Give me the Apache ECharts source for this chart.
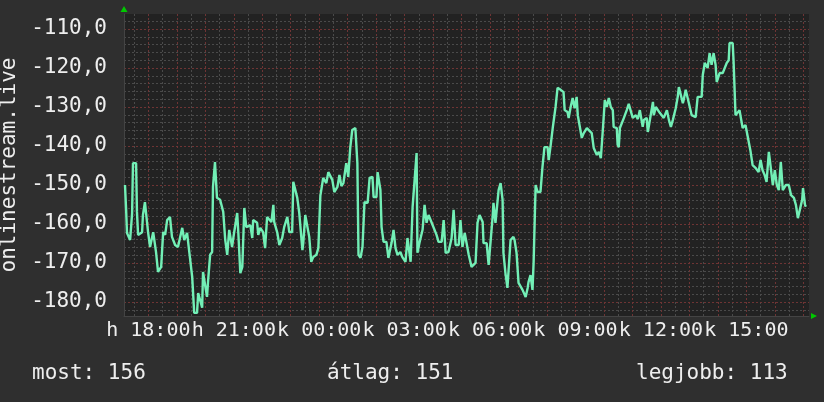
<!DOCTYPE html>
<html><head><meta charset="utf-8">
<script src="https://cdn.jsdelivr.net/npm/echarts@6/dist/echarts.min.js"></script>
<style>html,body{margin:0;padding:0;background:#2f2f2f;}#c{width:824px;height:402px;}</style>
</head><body><div id="c"></div>
<script>
// time in hours since Monday 00:00
const times = [17.18,17.22,17.25,17.32,17.36,17.43,17.46,17.57,17.60,17.64,17.67,17.78,17.81,17.88,17.95,17.99,18.06,18.13,18.17,18.24,18.27,18.34,18.41,18.45,18.52,18.59,18.66,18.76,18.83,18.94,19.04,19.19,19.26,19.36,19.43,19.54,19.61,19.71,19.75,19.82,19.89,19.92,19.99,20.06,20.10,20.17,20.24,20.27,20.34,20.41,20.52,20.63,20.70,20.77,20.84,20.94,21.01,21.12,21.16,21.23,21.30,21.37,21.44,21.58,21.65,21.68,21.82,21.86,21.93,22.03,22.10,22.17,22.24,22.32,22.39,22.42,22.53,22.60,22.70,22.77,22.88,22.95,23.05,23.09,23.16,23.23,23.30,23.41,23.44,23.51,23.58,23.65,23.72,23.79,23.90,23.97,24.04,24.14,24.25,24.32,24.46,24.53,24.64,24.71,24.78,24.85,24.95,25.02,25.09,25.16,25.27,25.34,25.38,25.45,25.52,25.59,25.70,25.77,25.87,25.91,26.01,26.05,26.15,26.19,26.26,26.36,26.43,26.54,26.61,26.68,26.75,26.85,26.92,27.03,27.10,27.14,27.21,27.28,27.35,27.42,27.45,27.52,27.63,27.70,27.77,27.84,27.95,28.02,28.12,28.19,28.30,28.37,28.44,28.54,28.65,28.72,28.79,28.90,28.96,29.03,29.11,29.18,29.25,29.35,29.42,29.49,29.56,29.63,29.74,29.77,29.88,29.95,30.02,30.09,30.12,30.19,30.26,30.30,30.37,30.44,30.47,30.54,30.61,30.68,30.72,30.82,30.86,30.93,31.00,31.07,31.14,31.25,31.32,31.35,31.42,31.49,31.53,31.60,31.67,31.77,31.84,31.91,32.02,32.06,32.13,32.20,32.23,32.30,32.37,32.48,32.58,32.62,32.72,32.76,32.83,32.90,32.94,32.97,33.04,33.08,33.15,33.22,33.29,33.40,33.47,33.57,33.64,33.75,33.82,33.89,33.96,34.03,34.10,34.17,34.24,34.31,34.34,34.45,34.48,34.52,34.56,34.63,34.70,34.80,34.87,34.94,35.01,35.05,35.12,35.19,35.26,35.36,35.40,35.50,35.54,35.61,35.72,35.75,35.82,35.89,35.96,36.03,36.10,36.21,36.28,36.35,36.42,36.45,36.52,36.59,36.63,36.70,36.77,36.80,36.87,36.94,36.98,37.08,37.15,37.22,37.29,37.43,37.47,37.54,37.61,37.64,37.71,37.78,37.85,37.92,37.96,38.03,38.06,38.17,38.24,38.31,38.38,38.41,38.52,38.55,38.62,38.69,38.76,38.83,38.87,38.97,39.04,39.15,39.22,39.32,39.43,39.50,39.57,39.64,39.71,39.79,39.86,39.93,40.00,40.07,40.14,40.21,40.28,40.39,40.49,40.57,40.67,40.74,40.81,40.88,40.96,40.99,41.06,41.09];
const values = [-150.0,-156.4,-162.3,-162.3,-164.1,-157.2,-144.4,-144.4,-156.9,-162.8,-162.8,-162.1,-157.7,-154.4,-154.4,-162.1,-165.9,-165.9,-162.1,-162.1,-167.2,-172.3,-172.3,-171.0,-162.1,-162.8,-159.0,-158.2,-163.3,-165.4,-165.9,-161.0,-164.1,-162.3,-166.7,-173.6,-182.8,-182.8,-177.7,-177.7,-181.5,-172.3,-172.3,-178.7,-174.4,-167.9,-167.2,-150.5,-144.1,-153.3,-153.8,-156.9,-164.1,-167.9,-161.5,-165.9,-162.3,-157.2,-162.3,-172.6,-171.0,-155.9,-160.8,-160.3,-163.6,-159.0,-159.7,-162.8,-161.0,-162.1,-166.2,-158.2,-158.2,-159.5,-155.1,-159.5,-162.3,-165.4,-163.6,-160.8,-158.2,-162.1,-162.1,-149.2,-149.2,-153.3,-157.2,-166.7,-164.9,-157.7,-157.7,-163.3,-169.7,-168.5,-167.9,-166.2,-152.8,-148.2,-149.5,-146.7,-148.7,-151.8,-150.5,-147.4,-150.3,-149.5,-144.4,-147.9,-140.5,-135.9,-135.4,-144.4,-167.9,-168.7,-165.9,-154.4,-154.6,-148.2,-147.9,-153.1,-153.1,-146.7,-151.3,-160.8,-164.6,-164.6,-168.7,-164.9,-161.5,-166.2,-167.9,-167.2,-168.5,-169.7,-163.6,-164.1,-169.7,-155.6,-155.6,-141.8,-167.4,-164.9,-161.5,-155.1,-159.7,-157.7,-159.7,-159.7,-162.8,-164.6,-164.6,-159.0,-167.4,-167.2,-163.6,-156.4,-165.4,-165.4,-159.0,-165.9,-162.3,-162.3,-167.9,-171.0,-171.3,-170.0,-159.7,-157.7,-159.5,-164.9,-164.9,-170.5,-170.5,-158.2,-154.6,-159.7,-159.7,-151.3,-149.5,-153.8,-167.4,-172.6,-176.4,-176.4,-164.1,-163.3,-164.1,-167.4,-175.1,-175.6,-176.9,-178.7,-176.4,-174.9,-173.1,-176.9,-169.7,-150.0,-151.8,-151.8,-145.4,-140.3,-140.3,-143.6,-139.7,-135.4,-135.1,-130.0,-125.1,-125.6,-126.2,-130.8,-131.3,-132.8,-130.0,-127.7,-128.2,-130.3,-127.4,-132.1,-132.6,-137.9,-136.7,-135.4,-135.4,-136.7,-140.5,-142.3,-141.5,-143.1,-135.9,-128.2,-130.0,-127.7,-130.0,-130.8,-135.1,-135.4,-139.7,-140.3,-135.4,-135.4,-132.8,-130.8,-129.2,-129.5,-132.8,-132.8,-132.1,-133.1,-130.8,-135.1,-133.3,-132.8,-136.4,-135.9,-128.7,-132.1,-130.0,-130.0,-131.5,-131.3,-132.8,-130.8,-133.3,-135.1,-133.3,-132.8,-130.3,-127.4,-124.9,-125.1,-129.0,-128.2,-125.6,-125.6,-129.0,-132.1,-132.6,-132.6,-127.4,-127.4,-121.8,-118.7,-118.5,-120.0,-116.2,-119.2,-116.2,-119.2,-123.6,-123.6,-121.3,-121.3,-121.8,-118.7,-118.0,-113.6,-113.6,-118.0,-132.1,-132.1,-130.8,-130.8,-135.4,-134.6,-134.4,-141.5,-144.9,-145.6,-146.7,-143.6,-146.2,-147.4,-149.2,-141.5,-141.5,-150.0,-146.2,-150.0,-151.3,-144.1,-151.3,-150.0,-150.0,-152.6,-153.3,-155.1,-158.5,-158.5,-153.8,-150.8,-155.1,-155.6];

const xMin = 17.145, xMax = 41.2;
const yMin = -183.6, yMax = -106.15;
const xHourTicks = [18,19,20,21,22,23,24,25,26,27,28,29,30,31,32,33,34,35,36,37,38,39,40,41];
const xHalfTicks = xHourTicks.map(h => h - 0.5).concat([41.5]);
const xLabelTicks = [18,21,24,27,30,33,36,39];
const xLabelTexts = ['h 18:00','h 21:00','k 00:00','k 03:00','k 06:00','k 09:00','k 12:00','k 15:00'];
const yMajorTicks = [-180,-170,-160,-150,-140,-130,-120,-110];
const yMinorTicks = [];
for (let v = -182; v <= -108; v += 2) { if (v % 10 !== 0) yMinorTicks.push(v); }
const yName = 'onlinestream.live';
const statTexts = ['most: 156', 'átlag: 151', 'legjobb: 113'];

const FONT = 'DejaVu Sans Mono';
const FS = 21;
const TXT = '#eeeeee';
const RED = '#6e3434';
const GREY = '#4a4a4a';

const chart = echarts.init(document.getElementById('c'), null, {renderer: 'canvas'});
chart.setOption({
  backgroundColor: '#2f2f2f',
  animation: false,
  grid: {left: 124, right: 15, top: 14, bottom: 86, show: true, backgroundColor: '#222222', borderWidth: 0, outerBoundsMode: 'none'},
  xAxis: [
    {type: 'value', min: xMin, max: xMax, position: 'bottom',
     axisLine: {show: true, lineStyle: {color: '#444444', width: 1}},
     axisTick: {show: false, customValues: xHourTicks},
     splitLine: {show: true, lineStyle: {color: RED, width: 1, type: [2, 2]}},
     axisLabel: {customValues: xLabelTicks, color: TXT, fontFamily: FONT, fontSize: 20, margin: 5,
       showMinLabel: true, showMaxLabel: true, hideOverlap: false,
       formatter: v => { const i = xLabelTicks.indexOf(Math.round(v)); return i >= 0 ? xLabelTexts[i] : ''; }},
     z: 3},
    {type: 'value', min: xMin, max: xMax, position: 'bottom',
     axisLine: {show: false}, axisLabel: {show: false},
     axisTick: {show: false, customValues: xHalfTicks},
     splitLine: {show: true, lineStyle: {color: GREY, width: 1, type: [2, 2]}}, z: 1},
    {type: 'value', min: xMin, max: xMax, position: 'bottom',
     axisLine: {show: true, symbol: ['none', 'triangle'], symbolSize: [6, 6], symbolOffset: [0, 5],
       lineStyle: {color: '#00c800', width: 0}},
     axisLabel: {show: false}, axisTick: {show: false}, splitLine: {show: false}}
  ],
  yAxis: [
    {type: 'value', min: yMin, max: yMax, position: 'left',
     name: yName, nameLocation: 'middle', nameGap: 100,
     nameTextStyle: {color: TXT, fontFamily: FONT, fontSize: FS},
     axisLine: {show: true, lineStyle: {color: '#444444', width: 1}},
     axisTick: {show: false, customValues: yMajorTicks},
     splitLine: {show: true, lineStyle: {color: RED, width: 1, type: [2, 2]}},
     axisLabel: {customValues: yMajorTicks, color: TXT, fontFamily: FONT, fontSize: FS, margin: 17,
       showMinLabel: true, showMaxLabel: true,
       formatter: v => v.toFixed(1).replace('.', ',')},
     z: 3},
    {type: 'value', min: yMin, max: yMax, position: 'left',
     axisLine: {show: false}, axisLabel: {show: false},
     axisTick: {show: false, customValues: yMinorTicks},
     splitLine: {show: true, lineStyle: {color: GREY, width: 1, type: [2, 2]}}, z: 1},
    {type: 'value', min: yMin, max: yMax, position: 'left',
     axisLine: {show: true, symbol: ['none', 'triangle'], symbolSize: [7, 6], symbolOffset: [0, 5],
       lineStyle: {color: '#00c800', width: 0}},
     axisLabel: {show: false}, axisTick: {show: false}, splitLine: {show: false}}
  ],
  series: [{
    type: 'line', xAxisIndex: 0, yAxisIndex: 0,
    data: times.map((t, i) => [t, values[i]]),
    showSymbol: false, symbol: 'none',
    lineStyle: {color: '#72efb6', width: 2.4},
    z: 5
  }],
  graphic: [
    {type: 'text', x: 32, y: 374, style: {text: statTexts[0], fill: TXT, font: FS + 'px "DejaVu Sans Mono"', verticalAlign: 'middle'}},
    {type: 'text', x: 327, y: 374, style: {text: statTexts[1], fill: TXT, font: FS + 'px "DejaVu Sans Mono"', verticalAlign: 'middle'}},
    {type: 'text', x: 636, y: 374, style: {text: statTexts[2], fill: TXT, font: FS + 'px "DejaVu Sans Mono"', verticalAlign: 'middle'}}
  ]
});
</script></body></html>
